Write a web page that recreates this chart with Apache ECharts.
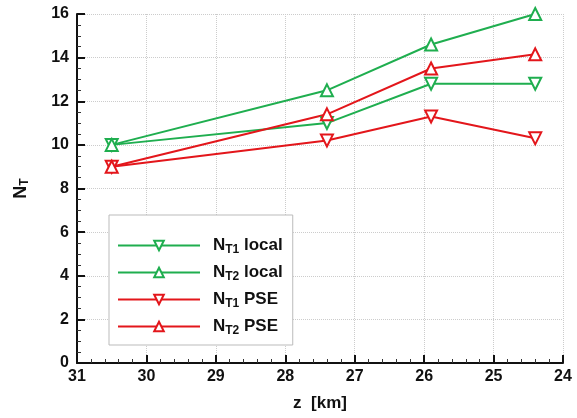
<!DOCTYPE html>
<html>
<head>
<meta charset="utf-8">
<script src="https://cdn.jsdelivr.net/npm/echarts@6/dist/echarts.min.js"></script>
<style>
  html, body { margin: 0; padding: 0; background: #fff; }
  #chart { width: 577px; height: 418px; }
</style>
</head>
<body>
<div id="chart"></div>
<script>
const zKm = [30.5, 27.4, 25.9, 24.4];
const nt1Local = [10.0, 11.0, 12.8, 12.8];
const nt2Local = [10.0, 12.5, 14.6, 16.0];
const nt1Pse = [9.0, 10.2, 11.3, 10.3];
const nt2Pse = [9.0, 11.4, 13.5, 14.15];

const GREEN = "#1fae4f";
const RED = "#e3161b";
const FONT = "Liberation Sans";

const pairs = (ys) => zKm.map((z, i) => [z, ys[i]]);

const makeSeries = (name, ys, color, down) => ({
  name,
  type: "line",
  data: pairs(ys),
  symbol: "triangle",
  symbolSize: 12,
  symbolRotate: down ? 180 : 0,
  lineStyle: { color, width: 2 },
  itemStyle: { color: "#fff", borderColor: color, borderWidth: 2 },
  z: 3,
});

const chart = echarts.init(document.getElementById("chart"));
chart.setOption({
  animation: false,
  textStyle: { fontFamily: FONT },
  grid: { left: 77, right: 14, top: 14, bottom: 55 },
  legend: {
    orient: "vertical",
    left: 109,
    top: 215,
    itemWidth: 82,
    itemHeight: 12,
    itemGap: 8,
    padding: [22, 10, 8, 8],
    backgroundColor: "#fff",
    borderColor: "#bbb",
    borderWidth: 1,
    data: ["t1local", "t2local", "t1pse", "t2pse"],
    formatter: (name) => {
      const lbl = {
        t1local: "{n|N}{s|T1}{n| local}",
        t2local: "{n|N}{s|T2}{n| local}",
        t1pse: "{n|N}{s|T1}{n| PSE}",
        t2pse: "{n|N}{s|T2}{n| PSE}",
      };
      return lbl[name];
    },
    textStyle: {
      padding: [0, 0, 0, 8],
      rich: {
        n: { fontFamily: FONT, fontWeight: "bold", fontSize: 17, color: "#111" },
        s: { fontFamily: FONT, fontWeight: "bold", fontSize: 12, color: "#111", verticalAlign: "bottom", padding: [9, 0, 0, 0] },
      },
    },
  },
  xAxis: {
    type: "value",
    inverse: true,
    min: 24,
    max: 31,
    interval: 1,
    name: "z  [km]",
    nameLocation: "middle",
    nameGap: 32,
    nameTextStyle: { fontFamily: FONT, fontWeight: "bold", fontSize: 17, color: "#111" },
    axisLine: { onZero: false, lineStyle: { color: "#111", width: 2 } },
    axisTick: { inside: true, length: 8, lineStyle: { color: "#111", width: 2 } },
    minorTick: { show: true, splitNumber: 5, length: 4, lineStyle: { color: "#333", width: 1 } },
    axisLabel: { fontFamily: FONT, fontWeight: "bold", fontSize: 16, color: "#111", margin: 6 },
    splitLine: { show: true, lineStyle: { color: "#ccc", type: "dotted", width: 1 } },
  },
  yAxis: {
    type: "value",
    min: 0,
    max: 16,
    interval: 2,
    name: "{n|N}{s|T}",
    nameLocation: "middle",
    nameGap: 46,
    nameRotate: 90,
    nameTextStyle: {
      rich: {
        n: { fontFamily: FONT, fontWeight: "bold", fontSize: 18, color: "#111" },
        s: { fontFamily: FONT, fontWeight: "bold", fontSize: 12, color: "#111", verticalAlign: "bottom", padding: [8, 0, 0, 0] },
      },
    },
    axisLine: { onZero: false, lineStyle: { color: "#111", width: 2 } },
    axisTick: { inside: true, length: 8, lineStyle: { color: "#111", width: 2 } },
    minorTick: { show: true, splitNumber: 4, length: 4, lineStyle: { color: "#333", width: 1 } },
    axisLabel: { fontFamily: FONT, fontWeight: "bold", fontSize: 16, color: "#111", margin: 8 },
    splitLine: { show: true, lineStyle: { color: "#ccc", type: "dotted", width: 1 } },
  },
  series: [
    makeSeries("t1local", nt1Local, GREEN, true),
    makeSeries("t2local", nt2Local, GREEN, false),
    makeSeries("t1pse", nt1Pse, RED, true),
    makeSeries("t2pse", nt2Pse, RED, false),
  ],
});
</script>
</body>
</html>
